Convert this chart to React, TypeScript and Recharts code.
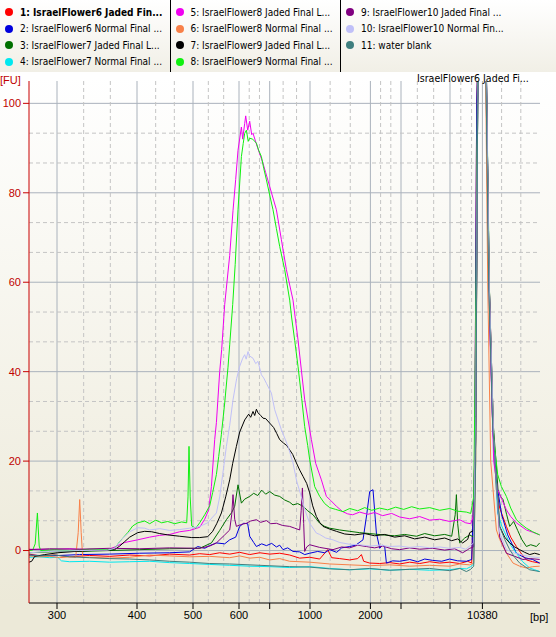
import { CartesianGrid, Line, LineChart, XAxis, YAxis } from 'recharts'

const FONT = '"Liberation Sans", Arial, sans-serif'
const NARROW = '"DejaVu Sans Condensed", "Liberation Sans", sans-serif'

// ladder: migration time (s) and size label
const ladderTime = [42.73, 50.73, 56.33, 60.93, 64.0, 68.03, 74.07, 77.13, 82.03, 85.27]
const ladderBp = ['300', '400', '500', '600', '', '1000', '2000', '', '', '10380']
const fuTicks = [0, 20, 40, 60, 80, 100]
const timeRange = [39.93, 91.03]
const fuRange = [-11.73, 105]

const sampleNames = [
	'1: IsraelFlower6 Jaded Fin...',
	'2: IsraelFlower6 Normal Final ...',
	'3: IsraelFlower7 Jaded Final L...',
	'4: IsraelFlower7 Normal Final ...',
	'5: IsraelFlower8 Jaded Final L...',
	'6: IsraelFlower8 Normal Final ...',
	'7: IsraelFlower9 Jaded Final L...',
	'8: IsraelFlower9 Normal Final ...',
	'9: IsraelFlower10 Jaded Final ...',
	'10: IsraelFlower10 Normal Fin...',
	'11: water blank',
]
const sampleColors = [
	'#ff0000', '#0000dd', '#007000', '#00e8f0', '#f000f0', '#f88048',
	'#000000', '#10f010', '#800080', '#c0c0f8', '#3f7f7f',
]

const flower6Jaded = [
	[39.93, -0.8], [41, -1.2], [42.5, -1.0], [44, -1.4], [46, -1.1], [48, -1.3], [50, -1.0], [52, -1.2],
	[54, -0.8], [56, -1.0], [57, -0.7], [58, -0.9], [59, -0.5], [60, -0.8], [61, -0.4], [62, -0.9],
	[63, -0.5], [64, -0.8], [65, -0.6], [66, -1.0], [67, -1.7], [68, -1.5], [69, -1.9], [69.8, 0.2],
	[70.2, -1.6], [71, -1.8], [72, -2.1], [72.8, -1.8], [73.17, -0.9], [73.4, -2.4], [74, -2.8], [75, -2.9],
	[76, -2.7], [77, -3.0], [78, -2.6], [79, -2.9], [80, -2.5], [81, -2.8], [82, -2.6], [83, -2.9],
	[83.8, -2.4], [84.2, -2.8], [84.5, 20], [84.7, 100], [85.27, 150], [85.6, 110], [85.9, 60], [86.3, 28],
	[86.67, 13.6], [87, 9.5], [87.67, 5.4], [88.1, 3], [88.67, 0.9], [89.1, -0.5], [89.67, -2.1], [90.3, -2.5],
	[91, -2.8],
]
const flower6Normal = [
	[39.93, -1.0], [42, -1.2], [45, -0.9], [48, -0.8], [51, -0.6], [54, -0.5], [56, -0.3], [56.8, 0.9],
	[57.5, 0.5], [58, 1.1], [58.67, 1.7], [59.5, 1.5], [60, 2.4], [60.6, 3.0], [61, 5.4], [61.4, 6.1],
	[61.8, 6.0], [62, 3.2], [62.4, 1.8], [62.67, 0.9], [63.2, 1.5], [63.67, 1.1], [64.2, 1.6], [64.67, 0.8],
	[65, 1.2], [65.33, 0.2], [65.8, 0.6], [66.33, -0.2], [67, -0.3], [67.5, -0.9], [68, -0.6], [68.8, -0.2],
	[69.5, -0.5], [70, 0.2], [70.7, -0.4], [71.2, 0.6], [72, 0.9], [72.6, 1.2], [73.33, 2.4], [73.7, 8],
	[74, 13.2], [74.33, 13.6], [74.67, 3.9], [75, 0.5], [75.3, 1.2], [75.5, 0.9], [75.67, -2.8], [76.3, -2.3],
	[77, -2.4], [78, -2.0], [78.8, -2.5], [79.5, -1.9], [80.3, -2.2], [81.2, -2.4], [82, -1.9], [82.8, -2.3],
	[83.67, -2.4], [84.2, -2.0], [84.5, 20], [84.7, 100], [85.27, 150], [85.65, 110], [85.95, 60], [86.3, 28],
	[86.7, 15], [87.2, 8], [87.8, 3.5], [88.67, -0.6], [89.5, -1.6], [90.3, -2.0], [91, -2.8],
]
const flower7Jaded = [
	[39.93, -0.5], [42, -0.3], [45, -0.2], [48, 0.0], [51, 0.2], [54, 0.4], [57, 0.5], [58.17, 1.7],
	[59, 4.5], [59.67, 6.9], [60.2, 8.5], [60.5, 9.9], [60.83, 14.7], [61.17, 10.6], [61.5, 11.5], [62, 12.1],
	[62.4, 12.8], [62.8, 12.3], [63.2, 13.5], [63.6, 12.6], [64, 13.2], [64.5, 12.4], [65, 12.1], [65.5, 11.3],
	[66, 10.8], [66.33, 10.2], [66.8, 10.5], [67.33, 9.9], [67.8, 8.9], [68.33, 8.0], [69, 6.1], [69.5, 5.4],
	[70, 5.0], [71, 4.6], [72, 4.3], [73, 4.0], [74, 3.8], [75.33, 3.5], [76.5, 3.3], [77.5, 3.6],
	[78.67, 3.2], [79.5, 3.8], [80.5, 3.3], [81.5, 3.6], [82.2, 3.2], [82.55, 8], [82.67, 12.5], [82.8, 6],
	[83, 1.7], [83.5, 2.8], [84, 3.5], [84.4, 3.0], [84.6, 25], [84.8, 100], [85.27, 150], [85.65, 110],
	[85.9, 65], [86.3, 30], [86.83, 13.6], [87.1, 12], [87.33, 11.4], [87.7, 8], [88, 5.4], [88.4, 6.5],
	[88.8, 4.5], [89.2, 2.5], [89.67, 0.9], [90.1, 1.3], [90.67, 0.9], [91, 1.7],
]
const flower7Normal = [
	[39.93, -1.5], [41, -1.4], [42, -1.6], [42.8, -1.5], [43.17, -2.3], [44, -2.5], [46, -2.4], [48, -2.6],
	[50, -2.5], [52, -2.4], [54, -2.7], [56, -2.9], [58, -3.1], [60, -3.3], [62, -3.5], [64, -3.6],
	[66, -3.8], [68, -3.6], [70, -4.0], [72, -4.3], [74, -4.1], [76, -4.4], [78, -4.2], [80, -4.4],
	[82, -4.3], [83, -4.0], [83.67, -4.1], [84.1, -3.6], [84.4, -3.0], [84.6, 25], [84.8, 100], [85.27, 150],
	[85.6, 110], [85.9, 60], [86.3, 28], [86.8, 8.4], [87.2, 5.5], [87.67, 3.2], [88.1, 1.2], [88.67, -0.6],
	[89.3, -2.5], [90, -3.9], [90.5, -4.3], [91, -4.7],
]
const flower8Jaded = [
	[39.93, 0.3], [42, 0.2], [44, 0.4], [46, 0.2], [47.8, 0.1], [48.5, 0.8], [49.5, 1.8], [50.8, 2.4],
	[52, 3.0], [53, 3.4], [54, 3.6], [55, 4.2], [56, 4.5], [57, 5.2], [57.5, 7.0], [57.9, 9.1],
	[58.17, 14.3], [58.5, 24.8], [58.67, 28.6], [59, 40], [59.2, 45], [59.5, 55], [60, 66], [60.33, 76],
	[60.6, 83], [60.83, 89.5], [61.17, 94.7], [61.3, 92], [61.5, 95.5], [61.6, 97.2], [61.8, 94], [62, 96],
	[62.2, 93], [62.33, 93.3], [62.8, 90], [63.33, 86.6], [63.6, 84.5], [64, 81.4], [64.67, 76.2], [65.17, 69.5],
	[65.67, 62.8], [66.33, 56], [66.83, 47.1], [67.5, 33.7], [68.17, 24.8], [68.6, 19.5], [69.17, 15.8], [69.67, 12.1],
	[70.1, 11.2], [70.67, 9.9], [71.3, 8.7], [71.8, 8.2], [72.3, 8.0], [73, 8.6], [73.8, 8.1], [74.5, 8.5],
	[75.3, 7.8], [76.2, 8.3], [77, 7.5], [78, 7.1], [79, 7.6], [80, 6.8], [81, 7.0], [82, 6.5],
	[83, 6.9], [83.6, 6.2], [84.1, 6.0], [84.4, 8], [84.6, 40], [84.8, 110], [85.27, 150], [85.65, 110],
	[86, 50], [86.4, 20], [86.8, 13.6], [87.2, 11.5], [87.67, 9.1], [88.1, 7.6], [88.67, 6.2], [89.1, 5.5],
	[89.67, 4.6], [90.3, 4.1], [91, 3.5],
]
const flower8Normal = [
	[39.93, -1.2], [41, -1.4], [42, -1.3], [43, -1.6], [44, -1.4], [44.6, -1.5], [44.85, 4], [45, 11.4],
	[45.15, 4], [45.3, -1.6], [46, -1.5], [48, -1.7], [50, -1.5], [52, -1.0], [54, -1.2], [56, -1.4],
	[58, -1.3], [60, -1.6], [61, -1.2], [62, -1.7], [63, -1.5], [64, -2.1], [65, -1.8], [66, -2.4],
	[68, -2.6], [70, -3.0], [72, -3.2], [74, -3.4], [76, -3.2], [78, -3.5], [80, -3.3], [82, -3.5],
	[83, -3.0], [84, -3.2], [84.4, -2.8], [84.6, 20], [84.8, 100], [85.27, 150], [85.6, 105], [85.8, 60],
	[86.1, 20], [86.67, 4.6], [87, 2.5], [87.33, 0.9], [87.8, -1.0], [88.33, -2.8], [89, -3.5], [89.67, -3.9],
	[90.3, -3.6], [91, -3.5],
]
const flower9Jaded = [
	[39.93, -2.6], [40.2, -2.4], [40.5, -1.3], [41.5, -0.9], [42.8, -0.5], [44.5, -0.2], [46.2, 0.0], [47.5, 0.1],
	[48.5, 0.2], [49, 1.0], [49.5, 2.0], [50, 3.0], [50.8, 4.0], [51.5, 4.3], [52.2, 4.2], [53, 3.8],
	[53.8, 3.5], [55, 3.2], [56.2, 2.9], [57, 2.9], [57.8, 3.1], [58.3, 4.3], [58.7, 6], [59.17, 8.4],
	[59.6, 12], [60, 15.8], [60.3, 19.5], [60.67, 23.3], [61, 26.5], [61.5, 29.2], [61.9, 30.5], [62.1, 29.8],
	[62.33, 31.1], [62.5, 30.2], [62.67, 31.6], [62.83, 30.8], [63.1, 30.2], [63.33, 29.6], [63.6, 29.5], [64, 28.5],
	[64.4, 27.5], [64.7, 26.2], [65, 24.8], [65.4, 24], [65.7, 23.5], [66, 22.5], [66.3, 21.5], [66.67, 19.6],
	[67, 18], [67.33, 16.6], [67.7, 15], [68, 12.9], [68.3, 10], [68.67, 7.6], [69, 6.3], [69.33, 5.4],
	[70, 4.8], [70.67, 4.3], [71.5, 3.7], [72.5, 3.5], [73.5, 3.8], [74.5, 3.3], [75.5, 3.6], [76.5, 3.0],
	[77.5, 3.3], [78.5, 2.6], [79.5, 3.0], [80.5, 2.4], [81.5, 2.8], [82.2, 2.2], [82.8, 2.6], [83.3, 1.7],
	[83.8, 2.5], [84, 4.0], [84.4, 4.5], [84.6, 30], [84.8, 100], [85.27, 150], [85.65, 110], [85.95, 60],
	[86.4, 25], [87, 5.4], [87.5, 3], [88, 1.7], [88.5, 0.8], [89, 0.2], [89.5, -0.4], [90, -0.9],
	[90.5, -0.6], [91, -0.9],
]
const flower9Normal = [
	[39.93, 0.0], [40.3, 0.1], [40.55, 1.5], [40.77, 8.4], [40.95, 1], [41.1, 0.0], [42.5, 0.2], [44, 0.0],
	[46, 0.3], [47.8, 0.2], [48.5, 0.5], [49, 2.0], [49.8, 4.0], [50.3, 5.5], [50.8, 6.2], [51.5, 6.6],
	[52, 6.0], [52.6, 6.8], [53.2, 6.2], [53.8, 6.5], [54.5, 6.0], [55.2, 6.4], [55.7, 6.2], [55.83, 12],
	[55.93, 23.3], [56.05, 12], [56.2, 5.5], [56.6, 5.0], [57, 6.2], [57.5, 8], [58, 10], [58.3, 13],
	[58.67, 17], [58.9, 21], [59.17, 26], [59.5, 33], [59.83, 41], [60, 46], [60.3, 55], [60.55, 64],
	[60.83, 76.2], [61.17, 88.1], [61.35, 91], [61.5, 93.3], [61.67, 94], [61.85, 91.5], [62, 92.2], [62.3, 92],
	[62.67, 91.1], [62.9, 89.5], [63.17, 88.1], [63.4, 85.5], [63.67, 82.9], [64, 79.5], [64.33, 76.2], [64.67, 72],
	[65, 68], [65.5, 62.8], [66, 56], [66.2, 52], [66.5, 47], [66.83, 41.2], [67.2, 34], [67.5, 27.7],
	[67.8, 23.5], [68, 20.3], [68.5, 14.3], [69, 12.1], [69.5, 10.5], [70, 9.6], [70.6, 9.2], [71.33, 8.7],
	[72, 9.4], [72.8, 8.9], [73.5, 9.6], [74.2, 9.0], [75, 9.5], [75.8, 9.1], [76.6, 9.7], [77.4, 9.2],
	[78.2, 9.8], [79, 9.3], [80, 9.6], [81, 9.0], [82, 9.4], [82.8, 8.8], [83.67, 8.6], [84.1, 8.3],
	[84.4, 12], [84.6, 50], [84.8, 110], [85.27, 150], [85.65, 110], [86, 55], [86.4, 25], [86.8, 17],
	[87.17, 14.3], [87.67, 12.1], [88.1, 9.5], [88.67, 6.9], [89.1, 6.0], [89.67, 5.0], [90.3, 4.2], [91, 3.5],
]
const flower10Jaded = [
	[39.93, 0.2], [42, 0.4], [45, 0.3], [48, 0.5], [51, 0.4], [54, 0.6], [57, 0.5], [58, 1.0],
	[58.67, 1.7], [59.5, 3.5], [60, 4.6], [60.2, 8], [60.33, 12.5], [60.5, 7], [60.67, 5.4], [61.1, 5.8],
	[61.67, 6.1], [62.1, 6.6], [62.67, 6.9], [63.1, 6.3], [63.67, 6.7], [64.1, 6.0], [64.67, 6.1], [65.3, 5.6],
	[66, 5.4], [66.5, 5.0], [67, 4.6], [67.15, 9], [67.27, 14.0], [67.4, 6], [67.5, -0.2], [67.7, 0.8],
	[68, 1.3], [69, 0.7], [70.33, 0.2], [71.2, 0.8], [72, 0.6], [72.8, 1.2], [73.67, 0.9], [74.5, 0.6],
	[75.3, 1.0], [76.2, 0.4], [77, 0.2], [78, 0.6], [79, 0.3], [80.3, 0.5], [81.5, 0.1], [82.5, 0.4],
	[83.3, -0.5], [83.8, 0.2], [84, 0.5], [84.4, 0.8], [84.6, 25], [84.8, 100], [85.27, 150], [85.65, 110],
	[85.95, 60], [86.4, 25], [87, 3], [87.67, -0.6], [88.5, -1.3], [89.33, -2.0], [90.1, -1.8], [91, -2.0],
]
const flower10Normal = [
	[39.93, -0.5], [42, -0.2], [45, 0.0], [47.8, 0.1], [48.5, 0.5], [49.2, 2.5], [50, 4.2], [50.8, 5.1],
	[51.5, 5.0], [52, 4.6], [53, 4.9], [54, 4.5], [55, 4.7], [56, 5.0], [57, 5.4], [57.8, 6.2],
	[58.3, 7.5], [58.67, 8.4], [59, 12], [59.3, 17], [59.67, 23.3], [60, 28], [60.33, 33.7], [60.7, 38.5],
	[61, 41.2], [61.3, 43], [61.5, 43.8], [61.65, 42.8], [61.83, 44.5], [62, 43.5], [62.33, 43.0], [62.6, 41.8],
	[62.83, 42.3], [63.17, 39.3], [63.4, 38.6], [63.67, 37.4], [64.17, 35.2], [64.5, 31.5], [65.17, 27.0], [65.83, 23.3],
	[66.33, 19.6], [66.7, 15.5], [67.17, 12], [67.5, 9.2], [68, 6.1], [68.67, 3.9], [69, 3.6], [69.6, 2.8],
	[70.33, 2.4], [71, 1.8], [72, 1.4], [73, 1.3], [74, 1.0], [75, 1.2], [76, 0.9], [77, 1.0],
	[78, 0.7], [79, 0.9], [80, 0.6], [81, 0.8], [82, 0.5], [83, 0.7], [83.6, 0.3], [84.1, 1.2],
	[84.4, 1.7], [84.6, 30], [84.8, 100], [85.27, 150], [85.65, 110], [85.95, 60], [86.4, 25], [87, 4],
	[87.67, 0.2], [88.5, -0.6], [89.3, -1.0], [90.1, -1.4], [91, -1.6],
]
const waterBlank = [
	[39.93, -1.0], [41, -1.2], [42.5, -1.0], [44, -1.4], [46, -1.6], [48, -1.8], [50, -1.9], [52, -2.1],
	[54, -2.4], [56, -2.6], [58, -2.9], [60, -3.0], [62, -3.2], [64, -3.4], [66, -3.6], [68, -3.7],
	[70, -4.1], [72, -4.3], [74, -4.0], [76, -4.4], [78, -4.2], [80, -4.0], [82, -4.5], [83, -4.0],
	[83.67, -4.7], [84.1, -4.2], [84.4, -3.5], [84.6, 20], [84.8, 100], [85.27, 150], [85.6, 110], [85.9, 60],
	[86.3, 28], [87, 5.4], [87.5, 2.5], [88, 0.2], [88.5, -1.5], [89, -2.8], [90, -4.3], [91, -4.7],
]

const sampleTraces = [
	flower6Jaded, flower6Normal, flower7Jaded, flower7Normal, flower8Jaded, flower8Normal,
	flower9Jaded, flower9Normal, flower10Jaded, flower10Normal, waterBlank,
]

// minor grid lines at thirds between major ticks
const thirds = (ticks: number[], end?: number) => {
	const out: number[] = []
	const all = end !== undefined ? [...ticks, end] : ticks
	for (let i = 0; i < all.length - 1; i++) {
		const step = (all[i + 1] - all[i]) / 3
		out.push(all[i] + step, all[i] + 2 * step)
	}
	return out
}
const minorTime = thirds(ladderTime, timeRange[1])
const minorFu = [-20 / 3, ...thirds(fuTicks)]

const LegendBox = () => (
	<div
		style={{
			position: 'absolute',
			left: 0,
			top: 0,
			width: 556,
			height: 72,
			background: 'linear-gradient(#ffffff, #f1efe6)',
			fontFamily: NARROW,
			fontSize: 10,
			color: '#000',
		}}
	>
		{sampleNames.map((name, i) => {
			const col = Math.floor(i / 4)
			const row = i % 4
			return (
				<div
					key={name}
					style={{
						position: 'absolute',
						left: col * 170.5 + 5,
						top: 4 + row * 16.5,
						height: 16,
						display: 'flex',
						alignItems: 'center',
						whiteSpace: 'nowrap',
						fontWeight: i === 0 ? 'bold' : 'normal',
					}}
				>
					<span
						style={{
							width: 8,
							height: 8,
							flex: 'none',
							borderRadius: '50%',
							background: sampleColors[i],
							marginRight: 7,
							display: 'inline-block',
						}}
					/>
					{name}
				</div>
			)
		})}
		<div style={{ position: 'absolute', left: 170, top: 0, width: 1, height: 72, background: '#000' }} />
		<div style={{ position: 'absolute', left: 340, top: 0, width: 1, height: 72, background: '#000' }} />
	</div>
)

export default function App() {
	return (
		<div
			style={{
				position: 'fixed',
				left: 0,
				top: 0,
				width: 556,
				height: 637,
				background: 'linear-gradient(#ffffff 12%, #ece9d8 95%)',
				fontFamily: FONT,
				overflow: 'hidden',
			}}
		>
			<LineChart
				width={556}
				height={637}
				margin={{ top: 81, right: 16, bottom: 0, left: 0 }}
			>
				<CartesianGrid
					stroke='#aab2bc'
					horizontalCoordinatesGenerator={({ offset }: any) =>
						fuTicks.map(
							v => offset.top + ((fuRange[1] - v) / (fuRange[1] - fuRange[0])) * offset.height
						)
					}
					verticalCoordinatesGenerator={({ offset }: any) =>
						ladderTime.map(
							v => offset.left + ((v - timeRange[0]) / (timeRange[1] - timeRange[0])) * offset.width
						)
					}
				/>
				<CartesianGrid
					stroke='#c4c4c4'
					strokeDasharray='4 3'
					horizontalCoordinatesGenerator={({ offset }: any) =>
						minorFu.map(
							v => offset.top + ((fuRange[1] - v) / (fuRange[1] - fuRange[0])) * offset.height
						)
					}
					verticalCoordinatesGenerator={({ offset }: any) =>
						minorTime.map(
							v => offset.left + ((v - timeRange[0]) / (timeRange[1] - timeRange[0])) * offset.width
						)
					}
				/>
				<XAxis
					type='number'
					dataKey='t'
					domain={timeRange}
					ticks={ladderTime}
					interval={0}
					allowDataOverflow
					height={34}
					stroke='#000'
					tickSize={6}
					tick={{ fill: '#000', fontSize: 11, fontFamily: FONT }}
					tickFormatter={(v: number) => ladderBp[ladderTime.indexOf(v)] ?? ''}
				/>
				<YAxis
					type='number'
					domain={fuRange}
					ticks={fuTicks}
					interval={0}
					allowDataOverflow
					width={29}
					stroke='#c80000'
					tickSize={6}
					tick={{ fill: '#c00000', fontSize: 11, fontFamily: FONT }}
				/>
				{sampleTraces.map((trace, i) => (
					<Line
						key={sampleNames[i]}
						data={trace.map(([t, fu]) => ({ t, fu }))}
						dataKey='fu'
						type='linear'
						stroke={sampleColors[i]}
						strokeWidth={1}
						dot={false}
						activeDot={false}
						isAnimationActive={false}
					/>
				))}
			</LineChart>
			<div style={{ position: 'absolute', left: 0, top: 74, fontSize: 11, color: '#c00000' }}>[FU]</div>
			<div style={{ position: 'absolute', left: 530, top: 611, fontSize: 11, color: '#000' }}>[bp]</div>
			<div
				style={{ position: 'absolute', left: 417, top: 72, fontSize: 10.5, fontFamily: NARROW, color: '#000' }}
			>
				IsraelFlower6 Jaded Fi...
			</div>
			<LegendBox />
		</div>
	)
}
